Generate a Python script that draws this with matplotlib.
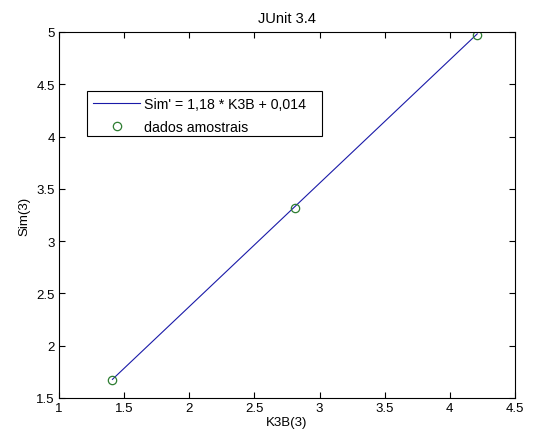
import matplotlib
matplotlib.use('Agg')
import matplotlib.pyplot as plt
from matplotlib.patches import Rectangle

# Dados
fit_x = [1.41, 4.21]
fit_y = [1.678, 4.982]
sample_x = [1.41, 2.81, 4.21]
sample_y = [1.67, 3.32, 4.97]
x_ticks = [1, 1.5, 2, 2.5, 3, 3.5, 4, 4.5]
y_ticks = [1.5, 2, 2.5, 3, 3.5, 4, 4.5, 5]

plt.rcParams['font.family'] = ['Liberation Sans', 'DejaVu Sans']
plt.rcParams['font.size'] = 9.5

fig = plt.figure(figsize=(5.34, 4.39), dpi=100)
ax = fig.add_axes([59 / 534, 1 - 399 / 439, 456 / 534, 366 / 439])

ax.plot(fit_x, fit_y, color='#1a1aa8', linewidth=0.8, label="Sim' = 1,18 * K3B + 0,014")
ax.plot(sample_x, sample_y, 'o', markerfacecolor='none', markeredgecolor='#2e7d32',
        markersize=6, markeredgewidth=0.9, linestyle='none', label='dados amostrais')

ax.set_xlim(1, 4.5)
ax.set_ylim(1.5, 5)
ax.set_xticks(x_ticks)
ax.set_yticks(y_ticks)
ax.set_xticklabels([f'{v:g}' for v in x_ticks])
ax.set_yticklabels([f'{v:g}' for v in y_ticks])
ax.tick_params(direction='in', top=True, right=True, length=4, width=0.8, pad=3)
for s in ax.spines.values():
    s.set_linewidth(0.8)

ax.set_title('JUnit 3.4', fontsize=10.5, pad=7)
ax.set_xlabel('K3B(3)', labelpad=1)
ax.set_ylabel('Sim(3)', labelpad=4)

# caixa da legenda estilo MATLAB (mais folga à direita)
box = Rectangle((28 / 456, 262 / 366), 235 / 456, 45 / 366, transform=ax.transAxes,
                facecolor='white', edgecolor='black', linewidth=0.8, zorder=4)
ax.add_patch(box)
leg = ax.legend(loc='upper left', bbox_to_anchor=((87 - 59) / 456, (399 - 92) / 366),
                frameon=False, borderaxespad=0, fontsize=10.2,
                handlelength=3.3, handletextpad=0.3, borderpad=0.45, labelspacing=0.6)
leg.set_zorder(5)

fig.savefig('out.png', dpi=100)
